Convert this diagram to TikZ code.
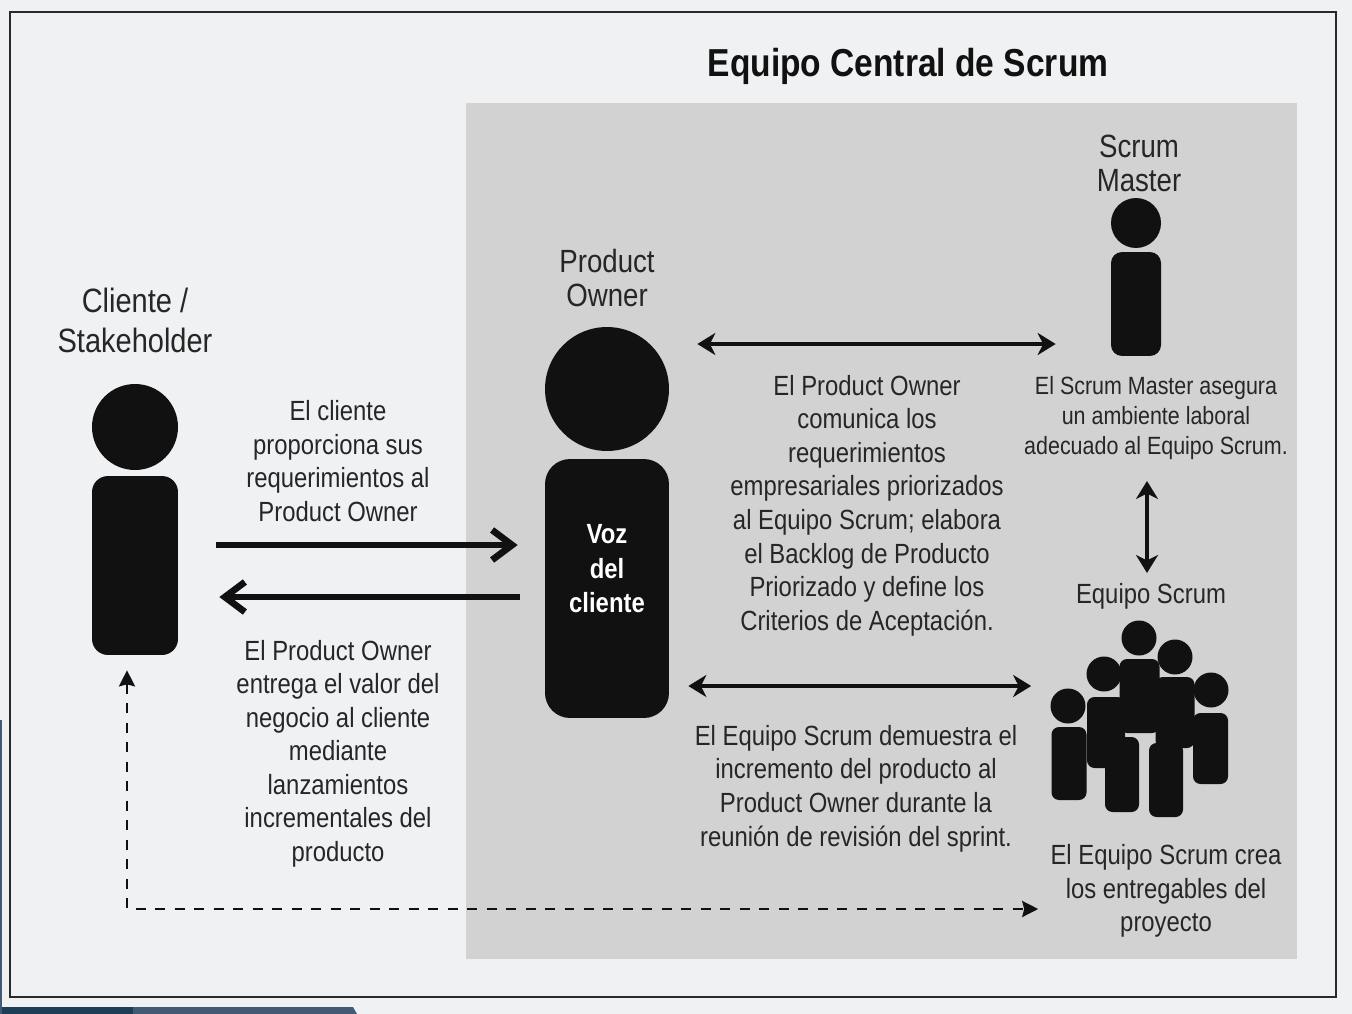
\documentclass[tikz,border=0pt]{standalone}
\usepackage{fontspec}
\setmainfont[FakeStretch=0.86]{Liberation Sans}
\usetikzlibrary{arrows.meta, positioning, calc}
\definecolor{fondo}{RGB}{240,241,243}
\definecolor{panel}{RGB}{210,210,210}
\definecolor{negro}{RGB}{17,17,17}
\definecolor{tinta}{RGB}{38,38,38}
\definecolor{bandaA}{RGB}{30,62,88}
\definecolor{bandaB}{RGB}{66,90,115}

\begin{document}
\begin{tikzpicture}[x=0.02cm, y=-0.02cm, >=Stealth,
    head/.style={circle, fill=negro, inner sep=0pt},
    body/.style={rectangle, fill=negro, inner sep=0pt},
    txt/.style={font=\fontsize{15.8}{19.1}\selectfont, align=center, text=tinta, inner sep=0pt},
    smalltxt/.style={font=\fontsize{14.2}{17}\selectfont, align=center, text=tinta, inner sep=0pt},
    rolename/.style={font=\fontsize{18.3}{19.3}\selectfont, align=center, text=tinta, inner sep=0pt},
    heavy/.style={line width=3.4pt, draw=negro, -{Straight Barb[length=4mm, width=6mm, line width=3.8pt]}},
    both/.style={line width=2pt, draw=negro, {Stealth[length=3.6mm, width=4.4mm, inset=1.1mm]}-{Stealth[length=3.6mm, width=4.4mm, inset=1.1mm]}},
  ]
  \useasboundingbox (0,0) rectangle (1352,1014);
  \fill[fondo] (0,0) rectangle (1352,1014);
  % Screen remains in the lower left corner
  \fill[bandaA] (0,1007) rectangle (133,1014);
  \fill[bandaB] (133,1007) -- (353,1007) -- (357,1014) -- (133,1014) -- cycle;
  \fill[bandaB] (0,720) rectangle (2,1014);
  % Frame and grey panel
  \draw[line width=1.4pt, draw=negro!90!white] (10,12) rectangle (1336,997);
  \fill[panel] (466,103) rectangle (1297,959);
  \node[font=\bfseries\fontsize{22.2}{26}\selectfont, text=negro, inner sep=0pt] (title) at (908,66) {Equipo Central de Scrum};

  % Client
  \node[font=\fontsize{19.2}{22.7}\selectfont, align=center, text=tinta, inner sep=0pt] (clientname) at (135,320) {Cliente /\\Stakeholder};
  \node[head, minimum size=1.72cm] (chead) at (135,427) {};
  \node[body, rounded corners=0.32cm, minimum width=1.72cm, minimum height=3.58cm] (cbody) at (135,565.5) {};

  % Product Owner
  \node[rolename] (poname) at (607,278) {Product\\Owner};
  \node[head, minimum size=2.48cm] (pohead) at (607,389) {};
  \node[body, rounded corners=0.5cm, minimum width=2.48cm, minimum height=5.18cm] (pobody) at (607,588.5) {};
  \node[font=\bfseries\fontsize{15.8}{19.6}\selectfont, align=center, text=white, inner sep=0pt] (voz) at (607,569) {Voz\\del\\cliente};

  % Scrum Master
  \node[rolename] (smname) at (1139,163) {Scrum\\Master};
  \node[head, minimum size=1cm] (smhead) at (1136,223) {};
  \node[body, rounded corners=0.22cm, minimum width=1cm, minimum height=2.08cm] (smbody) at (1136,304) {};

  % Scrum team
  \node[txt] (teamname) at (1151,596) {Equipo Scrum};
  \node[head, minimum size=0.7cm] (heada) at (1068,706) {};
  \node[head, minimum size=0.7cm] (headb) at (1104,674) {};
  \node[head, minimum size=0.7cm] (headc) at (1139,638) {};
  \node[head, minimum size=0.7cm] (headd) at (1175,657) {};
  \node[head, minimum size=0.7cm] (heade) at (1211,690) {};
  \node[body, rounded corners=0.15cm, minimum width=0.7cm, minimum height=1.46cm] (teama) at (1069,763.5) {};
  \node[body, rounded corners=0.15cm, minimum width=0.76cm, minimum height=1.42cm] (teamb) at (1106,732.5) {};
  \node[body, rounded corners=0.15cm, minimum width=0.8cm, minimum height=1.48cm] (teamc) at (1139.5,696) {};
  \node[body, rounded corners=0.15cm, minimum width=0.78cm, minimum height=1.42cm] (teamd) at (1175,712.5) {};
  \node[body, rounded corners=0.15cm, minimum width=0.7cm, minimum height=1.42cm] (teame) at (1210.5,748.5) {};
  \node[body, rounded corners=0.15cm, minimum width=0.68cm, minimum height=1.5cm] (teamf) at (1122,774.5) {};
  \node[body, rounded corners=0.15cm, minimum width=0.68cm, minimum height=1.48cm] (teamg) at (1166,780) {};

  % Descriptions
  \node[txt] (reqtext) at (338,461) {El cliente\\proporciona sus\\requerimientos al\\Product Owner};
  \node[txt] (valtext) at (338,753.5) {El Product Owner\\entrega el valor del\\negocio al cliente\\mediante\\lanzamientos\\incrementales del\\producto};
  \node[txt] (potext) at (867,505.5) {El Product Owner\\comunica los\\requerimientos\\empresariales priorizados\\al Equipo Scrum; elabora\\el Backlog de Producto\\Priorizado y define los\\Criterios de Aceptaci\'on.};
  \node[txt] (demotext) at (856,788.5) {El Equipo Scrum demuestra el\\incremento del producto al\\Product Owner durante la\\reuni\'on de revisi\'on del sprint.};
  \node[smalltxt] (smtext) at (1156,418) {El Scrum Master asegura\\un ambiente laboral\\adecuado al Equipo Scrum.};
  \node[txt] (teamtext) at (1166,891) {El Equipo Scrum crea\\los entregables del\\proyecto};

  % Connectors
  \coordinate (smlow) at (1147,481);
  \coordinate (teamtop) at (1147,573);
  \draw[heavy, shorten <=0.76cm, shorten >=0.54cm] (cbody.east |- 0,545) -- (pobody.west |- 0,545);
  \draw[heavy, shorten <=0.5cm, shorten >=0.82cm] (pobody.west |- 0,597) -- (cbody.east |- 0,597);
  \draw[both, shorten <=0.56cm, shorten >=1.1cm] (pohead.east |- 0,344) -- (smbody.west |- 0,344);
  \draw[both, shorten <=0.38cm, shorten >=0.4cm] (pobody.east |- 0,686) -- (teama.west |- 0,686);
  \draw[both] (smlow) -- (teamtop);
  % Delivery line, client to team
  \draw[line width=1.5pt, draw=negro, dash pattern=on 0.2cm off 0.19cm, {Stealth[length=3.2mm, width=3.2mm, inset=0.4mm]}-{Stealth[length=3.2mm, width=3.2mm, inset=0.4mm]}, shorten <=0.3cm, shorten >=0.24cm]
    (cbody.south -| 127,0) |- (teamtext.west |- 0,909);
\end{tikzpicture}
\end{document}
